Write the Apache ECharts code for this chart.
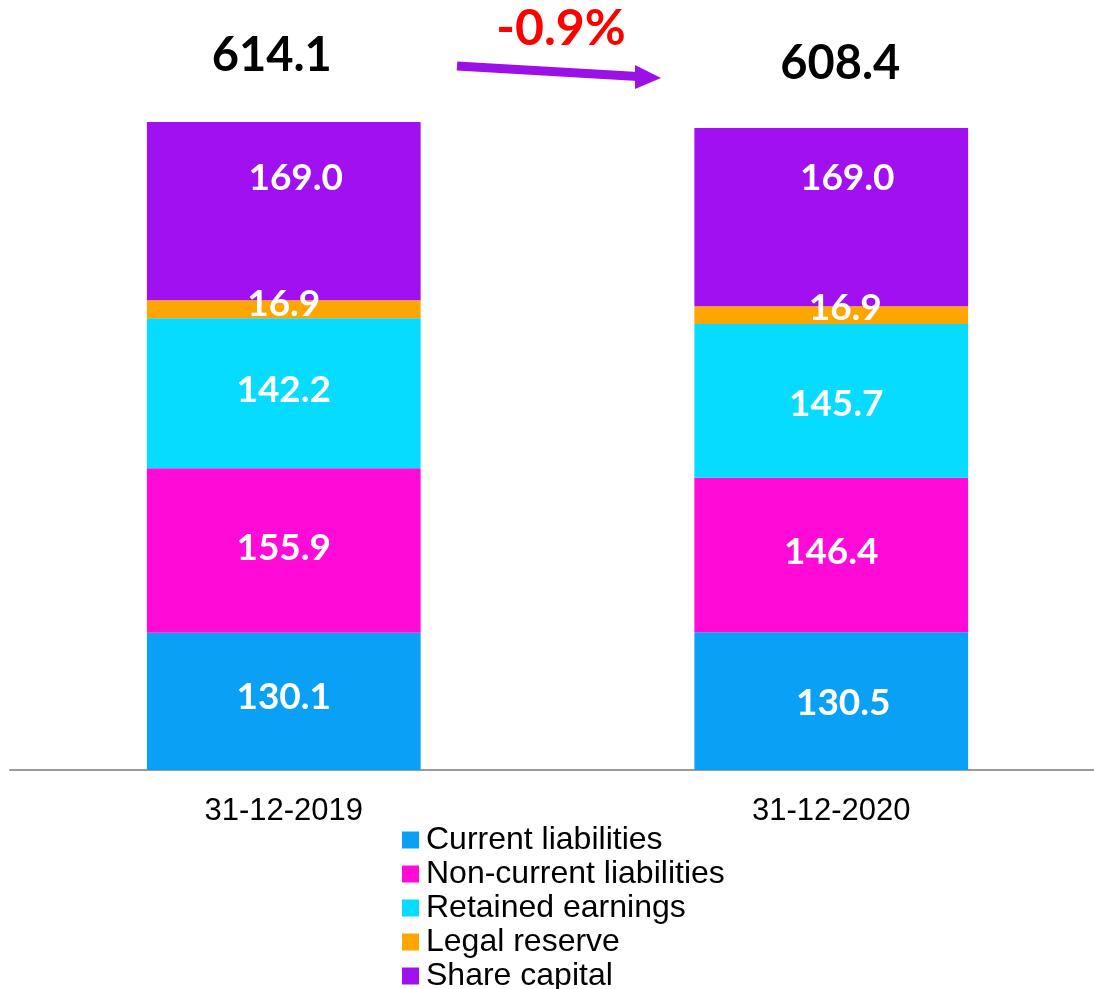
<!DOCTYPE html>
<html>
<head>
<meta charset="utf-8">
<script src="https://cdn.jsdelivr.net/npm/echarts@6/dist/echarts.min.js"></script>
<style>
html,body{margin:0;padding:0;background:#fff;}
#chart{width:1094px;height:989px;}
</style>
</head>
<body>
<div id="chart"></div>
<script>
var categories = ['31-12-2019', '31-12-2020'];
var seriesNames = ['Current liabilities', 'Non-current liabilities', 'Retained earnings', 'Legal reserve', 'Share capital'];
var currentLiabilities = [130.1, 130.5];
var nonCurrentLiabilities = [155.9, 146.4];
var retainedEarnings = [142.2, 145.7];
var legalReserve = [16.9, 16.9];
var shareCapital = [169.0, 169.0];
var totals = [614.1, 608.4];
var changeLabel = '-0.9%';

var colors = ['#0AA0F5', '#FF0AD7', '#05DCFF', '#FFA500', '#A010F0'];
var labelOffsets = [
  [[0, -4], [12, 2]],
  [[0, -2], [0, -3]],
  [[0, -3], [5, 3]],
  [[0, -5], [14, -7]],
  [[12, -33], [16, -39]]
];
var totalOffsets = [[-12, -43], [9, -41]];

var values = [currentLiabilities, nonCurrentLiabilities, retainedEarnings, legalReserve, shareCapital];

var series = values.map(function (arr, i) {
  return {
    name: seriesNames[i],
    type: 'bar',
    stack: 'total',
    barWidth: '50%',
    itemStyle: { color: colors[i] },
    data: arr.map(function (v, j) {
      return {
        value: v,
        label: { offset: labelOffsets[i][j] }
      };
    }),
    label: {
      show: true,
      position: 'inside',
      color: '#fff',
      fontFamily: 'Lato',
      fontWeight: 'bold',
      fontSize: 37,
      formatter: function (p) { return p.value.toFixed(1); }
    }
  };
});

series.push({
  name: 'Total',
  type: 'bar',
  barGap: '-100%',
  barWidth: '50%',
  z: 0,
  silent: true,
  itemStyle: { color: 'rgba(0,0,0,0)' },
  data: totals.map(function (v, j) {
    return { value: v, label: { offset: totalOffsets[j] } };
  }),
  label: {
    show: true,
    position: 'top',
    distance: 0,
    color: '#000',
    fontFamily: 'Lato',
    fontWeight: 'bold',
    fontSize: 47,
    formatter: function (p) { return p.value.toFixed(1); }
  }
});

var chart = echarts.init(document.getElementById('chart'));
chart.setOption({
  animation: false,
  backgroundColor: '#fff',
  grid: { left: 10, width: 1095, top: 122, bottom: 219, containLabel: false, outerBoundsMode: 'none' },
  legend: {
    data: seriesNames,
    orient: 'vertical',
    left: 402,
    top: 824,
    height: 300,
    padding: 0,
    itemWidth: 17,
    itemHeight: 17,
    itemGap: 2,
    icon: 'rect',
    textStyle: { fontFamily: 'Liberation Sans', fontSize: 32, color: '#000', padding: [0, 0, 0, 2] }
  },
  xAxis: {
    type: 'category',
    data: categories,
    axisLine: { lineStyle: { color: '#9a9a9a', width: 2 } },
    axisTick: { show: false },
    axisLabel: { fontFamily: 'Liberation Sans', fontSize: 31, color: '#000', margin: 26 }
  },
  yAxis: {
    type: 'value',
    min: 0,
    max: function (v) { return v.max; },
    show: false,
    splitLine: { show: false }
  },
  series: series,
  graphic: [
    {
      type: 'line',
      shape: { x1: 457, y1: 66, x2: 638, y2: 76.5 },
      style: { stroke: '#9B10E6', lineWidth: 9 }
    },
    {
      type: 'polygon',
      shape: { points: [[635, 65], [661, 78], [635, 89]] },
      style: { fill: '#9B10E6' }
    },
    {
      type: 'text',
      x: 561,
      y: 29,
      style: {
        text: changeLabel,
        fill: '#FF0000',
        font: 'bold 50px Lato',
        textAlign: 'center',
        textVerticalAlign: 'middle'
      }
    }
  ]
});
</script>
</body>
</html>
